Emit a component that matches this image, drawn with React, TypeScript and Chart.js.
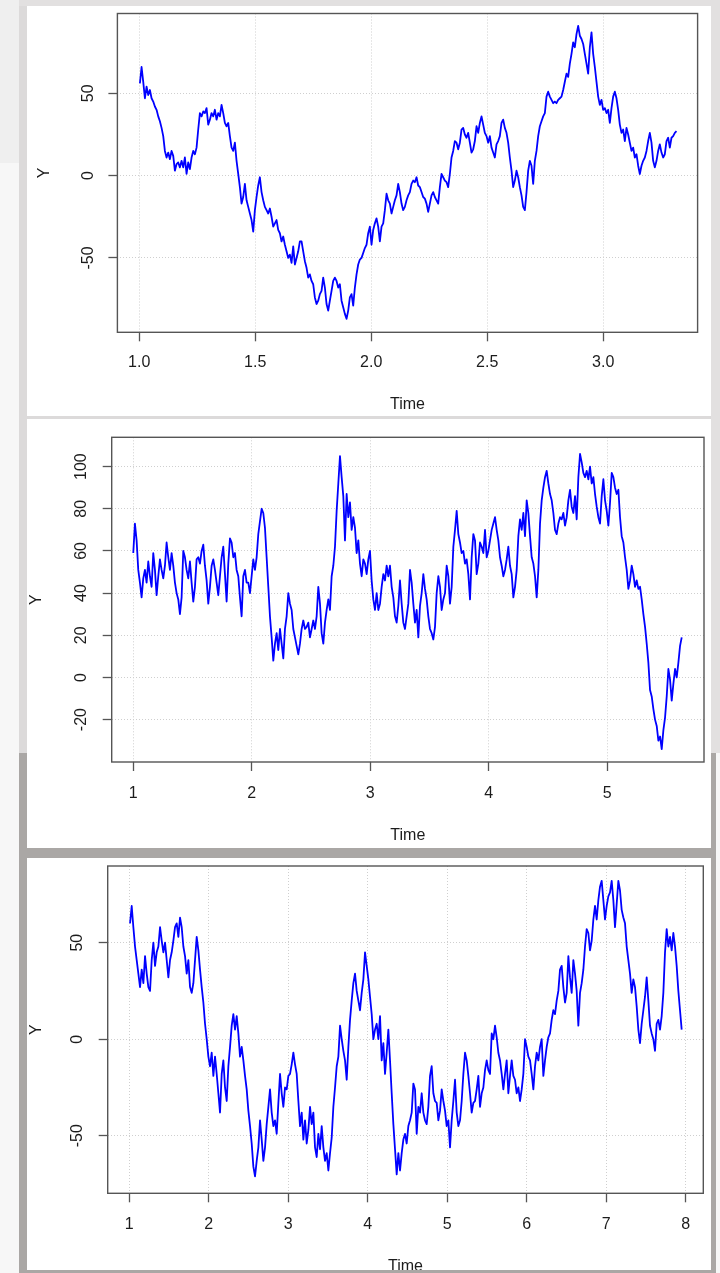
import React, { useEffect, useRef } from "react";
import { Chart, registerables } from "chart.js";

Chart.register(...registerables);

// ---------------- data ----------------
const X_TITLE = "Time";
const Y_TITLE = "Y";

// Series 1
const S1_TIME = [1.003, 3.316];
const S1_VALUES = [
  56, 66, 57, 47, 54, 49, 52, 47, 45, 42, 40, 36, 33, 29, 24, 15, 11, 14, 10, 15,
  12, 3, 7, 8, 5, 9, 5, 11, 1, 8, 4, 11, 15, 13, 17, 28, 38, 36, 39, 38,
  41, 31, 34, 38, 36, 40, 34, 38, 36, 43, 38, 32, 30, 32, 24, 17, 15, 20, 9, 1,
  -7, -17, -13, -5, -15, -19, -23, -27, -34, -21, -13, -6, -1, -10, -15, -19, -21, -23, -20, -25,
  -31, -29, -27, -33, -35, -40, -37, -42, -46, -50, -48, -53, -43, -54, -50, -46, -40, -40, -46, -52,
  -56, -62, -60, -64, -66, -74, -78, -76, -72, -70, -62, -68, -78, -82, -76, -70, -64, -62, -64, -68,
  -66, -76, -80, -84, -87, -82, -74, -72, -79, -68, -60, -54, -51, -50, -47, -44, -42, -35, -31, -42,
  -33, -29, -26, -31, -40, -31, -29, -21, -11, -15, -17, -23, -19, -15, -12, -5, -10, -17, -21, -19,
  -15, -12, -10,
  -5, -3, -4, -1, -6, -7, -10, -13, -14, -17, -22, -17, -12, -10, -13, -15, -17, -7, 1, -1,
  -3, -4, -7, 1, 11, 15, 21, 20, 16, 20, 28, 29, 25, 23, 26, 20, 14, 16, 21, 30,
  26, 32, 36, 31, 26, 24, 20, 24, 17, 14, 11, 19, 21, 24, 32, 34, 29, 26, 20, 11,
  3, -7, -3, 3, -1, -7, -12, -19, -21, -10, 3, 9, 6, -5, 9, 15, 24, 30, 33, 36,
  38, 48, 51, 48, 46, 44, 45, 44, 46, 47, 48, 52, 57, 62, 60, 68, 74, 81, 78, 86,
  91, 85, 83, 80, 74, 68, 62, 78, 87, 74, 66, 57, 48, 43, 46, 40, 41, 38, 40, 32,
  41, 48, 51, 47, 40, 31, 26, 28, 21, 29, 25, 20, 15, 17, 11, 13, 6, 1, 6, 9,
  11, 15, 21, 26, 20, 9, 5, 9, 15, 19, 14, 11, 13, 21, 23, 17, 23, 24, 26, 27,
];
const S1_X_TICKS = [1.0, 1.5, 2.0, 2.5, 3.0];
const S1_X_LABELS = ["1.0", "1.5", "2.0", "2.5", "3.0"];
const S1_Y_TICKS = [-50, 0, 50];
const S1_Y_LABELS = ["-50", "0", "50"];
const S1_X_LIMITS = [0.906, 3.407];
const S1_Y_LIMITS = [-95.2, 98.5];

// Series 2
const S2_TIME = [1.0, 5.628];
const S2_VALUES = [
  59, 73, 65, 51, 45, 38, 47, 51, 45, 55, 48, 43, 59, 51, 39, 48, 56, 51, 47, 53,
  64, 57, 51, 59, 53, 45, 40, 37, 30, 38, 60, 57, 51, 47, 55, 45, 36, 43, 56, 57,
  54, 60, 63, 53, 46, 35, 43, 53, 56, 51, 45, 39, 48, 57, 62, 49, 36, 54, 66, 64,
  57, 59, 51, 48, 38, 29, 48, 51, 45, 45, 40, 48, 56, 51, 57, 68, 74, 80, 78, 71,
  57, 43, 29, 19, 8, 16, 21, 13, 23, 16, 9, 23, 29, 40, 35, 32, 23, 19, 15, 11,
  16, 23, 27, 23, 24, 26, 19, 23, 27, 23, 29, 43, 35, 21, 16, 26, 32, 37, 32, 48,
  53, 62, 79, 92, 105, 95, 86, 65, 87, 76, 83, 70, 76, 71, 59, 65, 54, 48, 56, 54,
  49, 56, 60, 46, 37, 32, 40, 32, 35, 43, 49, 46, 53, 48, 53, 43, 38, 29, 26, 34,
  46, 35, 26, 23, 29, 35, 51, 45, 35, 26, 32, 19, 34, 40, 49, 42, 37, 29, 23, 21,
  18, 24, 40, 48, 43, 32, 37, 40, 53, 48, 35, 43, 62, 70, 79, 68, 64, 59, 60, 54,
  56, 49, 37, 57, 68, 65, 49, 54, 64, 62, 59, 70, 57, 60, 65, 70, 73, 76, 70, 65,
  57, 53, 48, 51, 56, 62, 53, 49, 38, 43, 51, 67, 75, 70, 78, 67, 84, 78, 67, 57,
  54, 48, 38, 51, 73, 84, 90, 95, 98, 92, 87, 84, 78, 70, 68, 73, 76, 75, 78, 72,
  76, 84, 89, 81, 78, 86, 75, 95, 106, 102, 97, 95, 98, 94, 100, 92, 95, 87, 81, 76,
  73, 86, 94, 84, 79, 72, 83, 97, 95, 90, 87, 89, 76, 67, 64, 57, 51, 42, 46, 53,
  49, 43, 46, 42, 43, 37, 30, 24, 16, 7, -6, -9, -15, -20, -23, -30, -28, -34, -25, -19,
  -9, 4, -1, -11, -3, 4, 0, 7, 15, 19,
];
const S2_X_TICKS = [1, 2, 3, 4, 5];
const S2_X_LABELS = ["1", "2", "3", "4", "5"];
const S2_Y_TICKS = [-20, 0, 20, 40, 60, 80, 100];
const S2_Y_LABELS = ["-20", "0", "20", "40", "60", "80", "100"];
const S2_X_LIMITS = [0.818, 5.816];
const S2_Y_LIMITS = [-40.1, 113.9];

// Series 3
const S3_TIME = [1.009, 7.949];
const S3_VALUES = [
  60, 69, 58, 48, 41, 34, 27, 36, 29, 43, 34, 27, 25, 41, 50, 38, 45, 48, 58, 51,
  45, 50, 41, 32, 41, 45, 51, 58, 60, 53, 63, 58, 48, 43, 34, 41, 27, 24, 29, 41,
  53, 46, 36, 27, 19, 8, 0, -9, -14, -7, -19, -9, -18, -28, -38, -18, -11, -25, -32, -14,
  -4, 7, 13, 5, 12, 3, -9, -4, -11, -19, -26, -37, -45, -54, -66, -71, -63, -56, -42, -52,
  -63, -56, -44, -35, -26, -38, -45, -42, -49, -33, -18, -28, -35, -25, -26, -19, -18, -13, -7, -13,
  -18, -32, -45, -38, -52, -42, -54, -47, -35, -44, -38, -56, -61, -49, -57, -45, -56, -63, -59, -68,
  -59, -51, -35, -25, -14, -9, 7, 0, -6, -11, -21, -4, 10, 20, 29, 34, 25, 20, 15, 24,
  31, 45, 38, 31, 22, 13, 0, 5, 8, 0, 12, -11, -2, -18, -7, 5, -11, -28, -44, -57,
  -70, -59,
  -68, -59, -52, -49, -54, -45, -42, -38, -23, -26, -49, -35, -38, -28, -38, -42, -44, -35, -19, -14,
  -28, -32, -33, -42, -37, -26, -32, -37, -45, -42, -56, -42, -32, -21, -38, -45, -42, -32, -18, -7,
  -11, -19, -28, -38, -33, -32, -26, -19, -35, -28, -25, -16, -11, -16, -18, 3, 0, 7, 1, -7,
  -11, -18, -26, -18, -11, -28, -19, -11, -19, -21, -28, -25, -32, -26, -18, 0, -4, -9, -11, -18,
  -26, -14, -7, -11, -4, 0, -19, -11, -4, 1, 3, 10, 15, 13, 20, 25, 36, 38, 27, 19,
  24, 43, 32, 24, 41, 34, 25, 7, 24, 29, 36, 48, 57, 55, 46, 51, 62, 69, 62, 72,
  79, 82, 72, 62, 69, 74, 76, 82, 72, 58, 70, 82, 77, 67, 63, 60, 48, 41, 34, 24,
  31, 27, 17, 5, -2, 8, 15, 22, 32, 20, 7, 3, 0, -6, 8, 10, 5, 12, 24, 45,
  57, 48, 53, 46, 55, 48, 38, 25, 15, 5,
];
const S3_X_TICKS = [1, 2, 3, 4, 5, 6, 7, 8];
const S3_X_LABELS = ["1", "2", "3", "4", "5", "6", "7", "8"];
const S3_Y_TICKS = [-50, 0, 50];
const S3_Y_LABELS = ["-50", "0", "50"];
const S3_X_LIMITS = [0.728, 8.221];
const S3_Y_LIMITS = [-79.8, 89.7];

// ---------------- style / layout ----------------
const FONT_FAMILY = "'Liberation Sans', Arial, Helvetica, sans-serif";
const FONT_SIZE = 16;
const TEXT_COLOR = "#1c1c1c";
const LINE_COLOR = "#0000ff";
const BOX_COLOR = "#555555";
const GRID_COLOR = "#cfcfcf";
const LIGHT_GRAY = "#dcdada";
const DARK_GRAY = "#aaa7a5";
const PAGE_BG = "#f7f7f7";

type Spec = {
  time: number[];
  values: number[];
  xTicks: number[];
  xLabels: string[];
  yTicks: number[];
  yLabels: string[];
  xLimits: number[];
  yLimits: number[];
  left: number;
  top: number;
  w: number;
  h: number;
  padTop: number;
  padRight: number;
  yAxisW: number;
  xAxisH: number;
  xLabelPad: number;
  yLabelGap: number;
  yTitleGap: number;
  xTitleGap: number;
};

const PANELS: Spec[] = [
  {
    time: S1_TIME, values: S1_VALUES, xTicks: S1_X_TICKS, xLabels: S1_X_LABELS,
    yTicks: S1_Y_TICKS, yLabels: S1_Y_LABELS, xLimits: S1_X_LIMITS, yLimits: S1_Y_LIMITS,
    left: 27, top: 6, w: 684, h: 410,
    padTop: 7.5, padRight: 13.4, yAxisW: 90.4, xAxisH: 83.7,
    xLabelPad: 12.1, yLabelGap: 29, yTitleGap: 72.4, xTitleGap: 72.7,
  },
  {
    time: S2_TIME, values: S2_VALUES, xTicks: S2_X_TICKS, xLabels: S2_X_LABELS,
    yTicks: S2_Y_TICKS, yLabels: S2_Y_LABELS, xLimits: S2_X_LIMITS, yLimits: S2_Y_LIMITS,
    left: 27, top: 419, w: 684, h: 429,
    padTop: 18.3, padRight: 7, yAxisW: 84.7, xAxisH: 86,
    xLabelPad: 13.4, yLabelGap: 30, yTitleGap: 75, xTitleGap: 74,
  },
  {
    time: S3_TIME, values: S3_VALUES, xTicks: S3_X_TICKS, xLabels: S3_X_LABELS,
    yTicks: S3_Y_TICKS, yLabels: S3_Y_LABELS, xLimits: S3_X_LIMITS, yLimits: S3_Y_LIMITS,
    left: 27, top: 858, w: 684, h: 412,
    padTop: 8, padRight: 7.7, yAxisW: 80.7, xAxisH: 76.7,
    xLabelPad: 12.9, yLabelGap: 29.7, yTitleGap: 71, xTitleGap: 73.5,
  },
];

function rDecorations(spec: Spec) {
  return {
    id: "rDecorations",
    afterDraw(chart: any) {
      const { ctx, chartArea: a } = chart;
      const ys = chart.scales.y;
      ctx.save();
      ctx.setLineDash([]);
      ctx.strokeStyle = BOX_COLOR;
      ctx.lineWidth = 1.4;
      ctx.strokeRect(a.left, a.top, a.right - a.left, a.bottom - a.top);
      ctx.fillStyle = TEXT_COLOR;
      ctx.font = `${FONT_SIZE}px ${FONT_FAMILY}`;
      ctx.textAlign = "center";
      ctx.textBaseline = "middle";
      spec.yTicks.forEach((v, i) => {
        ctx.save();
        ctx.translate(a.left - spec.yLabelGap, ys.getPixelForValue(v));
        ctx.rotate(-Math.PI / 2);
        ctx.fillText(spec.yLabels[i], 0, 0);
        ctx.restore();
      });
      ctx.save();
      ctx.translate(a.left - spec.yTitleGap, (a.top + a.bottom) / 2);
      ctx.rotate(-Math.PI / 2);
      ctx.fillText(Y_TITLE, 0, 0);
      ctx.restore();
      ctx.fillText(X_TITLE, (a.left + a.right) / 2, a.bottom + spec.xTitleGap);
      ctx.restore();
    },
  };
}

function RPanel({ spec }: { spec: Spec }) {
  const ref = useRef<HTMLCanvasElement | null>(null);
  useEffect(() => {
    const canvas = ref.current;
    if (!canvas) return;
    const n = spec.values.length;
    const [t0, t1] = spec.time;
    const points = spec.values.map((v, i) => ({ x: t0 + ((t1 - t0) * i) / (n - 1), y: v }));
    const gridOpts = {
      display: true,
      drawOnChartArea: true,
      drawTicks: true,
      color: GRID_COLOR,
      lineWidth: 1,
      tickLength: 9,
      tickColor: BOX_COLOR,
      tickWidth: 1.3,
    };
    const chart = new Chart(canvas, {
      type: "line",
      data: {
        datasets: [
          {
            data: points,
            borderColor: LINE_COLOR,
            borderWidth: 1.8,
            borderJoinStyle: "round",
            pointRadius: 0,
            tension: 0,
            fill: false,
          },
        ],
      },
      options: {
        animation: false,
        responsive: false,
        maintainAspectRatio: false,
        events: [],
        layout: { padding: { top: spec.padTop, right: spec.padRight, left: 0, bottom: 0 } },
        plugins: { legend: { display: false }, tooltip: { enabled: false } },
        scales: {
          x: {
            type: "linear",
            min: spec.xLimits[0],
            max: spec.xLimits[1],
            afterBuildTicks: (s: any) => {
              s.ticks = spec.xTicks.map((v) => ({ value: v }));
            },
            afterFit: (s: any) => {
              s.height = spec.xAxisH;
            },
            grid: gridOpts,
            border: { display: false, dash: [1, 2] },
            ticks: {
              autoSkip: false,
              maxRotation: 0,
              minRotation: 0,
              padding: spec.xLabelPad,
              color: TEXT_COLOR,
              font: { family: FONT_FAMILY, size: FONT_SIZE },
              callback: (_v: any, i: number) => spec.xLabels[i],
            },
          },
          y: {
            type: "linear",
            min: spec.yLimits[0],
            max: spec.yLimits[1],
            afterBuildTicks: (s: any) => {
              s.ticks = spec.yTicks.map((v) => ({ value: v }));
            },
            afterFit: (s: any) => {
              s.width = spec.yAxisW;
            },
            grid: gridOpts,
            border: { display: false, dash: [1, 2] },
            ticks: { display: false },
          },
        },
      } as any,
      plugins: [rDecorations(spec)],
    });
    return () => chart.destroy();
  }, [spec]);
  return (
    <canvas
      ref={ref}
      width={spec.w}
      height={spec.h}
      style={{
        position: "absolute",
        left: spec.left,
        top: spec.top,
        width: spec.w,
        height: spec.h,
        display: "block",
        background: "#ffffff",
      }}
    />
  );
}

function Block({ l, t, w, h, c }: { l: number; t: number; w: number; h: number; c: string }) {
  return <div style={{ position: "absolute", left: l, top: t, width: w, height: h, background: c }} />;
}

export default function App() {
  return (
    <div
      style={{
        position: "absolute",
        left: 0,
        top: 0,
        width: 720,
        height: 1273,
        overflow: "hidden",
        background: PAGE_BG,
      }}
    >
      <Block l={0} t={0} w={19} h={163} c="#efefef" />
      <Block l={19} t={0} w={701} h={6} c="#e2e0e0" />
      <Block l={19} t={6} w={8} h={747} c={LIGHT_GRAY} />
      <Block l={19} t={753} w={8} h={520} c={DARK_GRAY} />
      <Block l={711} t={6} w={9} h={747} c="#e2e0e0" />
      <Block l={711} t={753} w={5} h={520} c={DARK_GRAY} />
      <Block l={19} t={416} w={692} h={3} c={LIGHT_GRAY} />
      <Block l={19} t={848} w={692} h={10} c={DARK_GRAY} />
      <Block l={19} t={1270} w={697} h={3} c={DARK_GRAY} />
      {PANELS.map((p, i) => (
        <RPanel key={i} spec={p} />
      ))}
    </div>
  );
}
